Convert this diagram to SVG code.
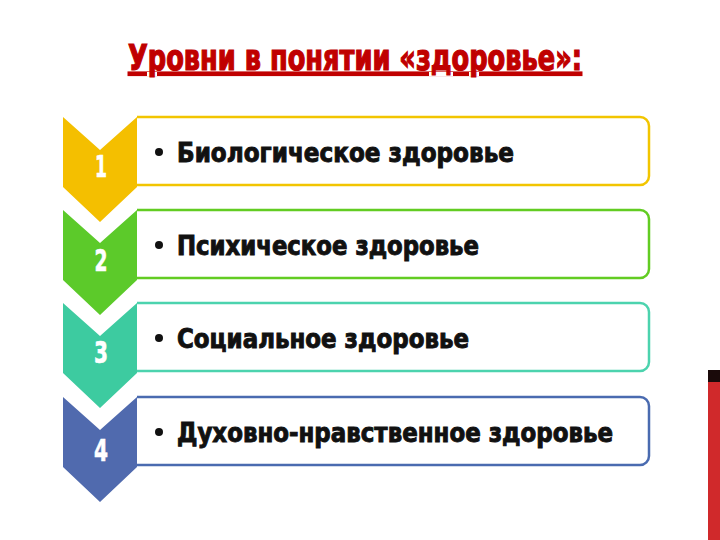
<svg xmlns="http://www.w3.org/2000/svg" width="720" height="540" viewBox="0 0 720 540">
<style>
.t{font-family:"DejaVu Sans Condensed","DejaVu Sans","Liberation Sans",sans-serif;font-weight:bold}
.title{fill:#C00000;stroke:#C00000;stroke-width:1.2;font-size:35px;text-decoration:underline}
.num{fill:#FFFFFF;stroke:#FFFFFF;stroke-width:0.6;font-size:30px;text-anchor:middle}
.item{fill:#111111;stroke:#111111;stroke-width:0.9;font-size:26px}
.box{fill:#FFFFFF;stroke-width:2.5}
</style>
<rect width="720" height="540" fill="#FFFFFF"/>
<g id="title"><text class="t title" x="128" y="70" textLength="454" lengthAdjust="spacingAndGlyphs">Уровни в понятии «здоровье»:</text></g>
<g id="sidebar"><rect x="708" y="370" width="12" height="12" fill="#1A0A0A"/><rect x="708" y="382" width="12" height="158" fill="#D0292B"/></g>
<g id="connectors"></g>
<g id="level1">
<path class="box" stroke="#F2C500" d="M137,117 H640 A9,9 0 0 1 649,126 V176 A9,9 0 0 1 640,185 H137"/>
<polygon fill="#F4BF00" points="63,117 100,150 137,117 137,187 100,222 63,187"/>
<text class="t num" x="101" y="177" textLength="12" lengthAdjust="spacingAndGlyphs">1</text>
<circle cx="159" cy="152" r="4" fill="#111"/>
<text class="t item" x="177" y="162" textLength="337" lengthAdjust="spacingAndGlyphs">Биологическое здоровье</text>
</g>
<g id="level2">
<path class="box" stroke="#62CC22" d="M137,210 H640 A9,9 0 0 1 649,219 V269 A9,9 0 0 1 640,278 H137"/>
<polygon fill="#5CCA2A" points="63,210 100,243 137,210 137,280 100,315 63,280"/>
<text class="t num" x="101" y="271" textLength="13" lengthAdjust="spacingAndGlyphs">2</text>
<circle cx="159" cy="245" r="4" fill="#111"/>
<text class="t item" x="177" y="255" textLength="302" lengthAdjust="spacingAndGlyphs">Психическое здоровье</text>
</g>
<g id="level3">
<path class="box" stroke="#4CD3AE" d="M137,303 H640 A9,9 0 0 1 649,312 V362 A9,9 0 0 1 640,371 H137"/>
<polygon fill="#3DCBA0" points="63,303 100,336 137,303 137,373 100,408 63,373"/>
<text class="t num" x="101" y="363" textLength="14" lengthAdjust="spacingAndGlyphs">3</text>
<circle cx="159" cy="338" r="4" fill="#111"/>
<text class="t item" x="177" y="348" textLength="292" lengthAdjust="spacingAndGlyphs">Социальное здоровье</text>
</g>
<g id="level4">
<path class="box" stroke="#4A6BB0" d="M137,397 H640 A9,9 0 0 1 649,406 V456 A9,9 0 0 1 640,465 H137"/>
<polygon fill="#506AAE" points="63,397 100,430 137,397 137,467 100,502 63,467"/>
<text class="t num" x="101" y="461" textLength="14" lengthAdjust="spacingAndGlyphs">4</text>
<circle cx="159" cy="432" r="4" fill="#111"/>
<text class="t item" x="177" y="442" textLength="436" lengthAdjust="spacingAndGlyphs">Духовно-нравственное здоровье</text>
</g>
</svg>
